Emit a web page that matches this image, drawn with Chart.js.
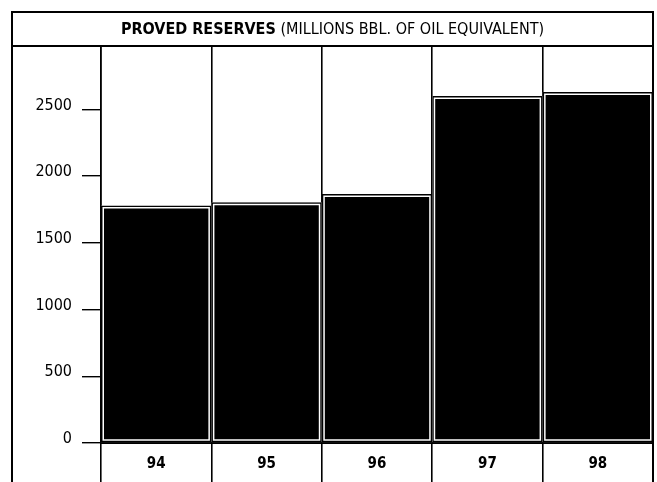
<!DOCTYPE html>
<html>
<head>
<meta charset="utf-8">
<script src="https://cdn.jsdelivr.net/npm/chart.js@4.4.0/dist/chart.umd.min.js"></script>
<style>
  html, body { margin: 0; padding: 0; background: #fff; }
  #wrap { width: 657px; height: 482px; }
</style>
</head>
<body>
<div id="wrap"><canvas id="reserves-chart"></canvas></div>
<script>
const years = ['94', '95', '96', '97', '98'];
const provedReserves = [1780, 1805, 1865, 2600, 2630];
const yTicks = [0, 500, 1000, 1500, 2000, 2500];
const titleBold = 'PROVED RESERVES';
const titleRest = ' (MILLIONS BBL. OF OIL EQUIVALENT)';

const FONT = "'Liberation Sans Narrow', 'DejaVu Sans Condensed', 'Arial Narrow', sans-serif";

// frame + two-weight title row above the plot
const FrameTitle = {
    id: 'frameTitle',
    afterDraw(chart) {
        const c = chart.ctx;
        const area = chart.chartArea;
        const left = 12, top = 12, right = area.right, bottom = chart.height;
        c.save();
        c.strokeStyle = '#000';
        c.lineWidth = 2;
        c.beginPath();
        c.moveTo(left, bottom); c.lineTo(left, top); c.lineTo(right, top); c.lineTo(right, bottom);
        c.moveTo(left, area.top); c.lineTo(right, area.top);
        c.stroke();

        c.fillStyle = '#000';
        c.textBaseline = 'middle';
        c.font = 'bold 16px ' + FONT;
        const wBold = c.measureText(titleBold).width;
        c.font = '16px ' + FONT;
        const wRest = c.measureText(titleRest).width;
        let x = (left + right) / 2 - (wBold + wRest) / 2;
        const y = (top + area.top) / 2 + 1;
        c.font = 'bold 16px ' + FONT;
        c.fillText(titleBold, x, y);
        c.font = '16px ' + FONT;
        c.fillText(titleRest, x + wBold, y);
        c.restore();
    }
};

new Chart(document.getElementById('reserves-chart'), {
    type: 'bar',
    data: {
        labels: years,
        datasets: [
            {
                // outline on top
                data: provedReserves,
                backgroundColor: 'rgba(0,0,0,0)',
                borderColor: '#000',
                borderWidth: 1.5,
                borderSkipped: false,
                grouped: false,
                inflateAmount: 0,
                barPercentage: 1,
                categoryPercentage: 1
            },
            {
                // black fill with white inner gap
                data: provedReserves,
                backgroundColor: '#000',
                borderColor: '#fff',
                borderWidth: 3,
                borderSkipped: false,
                grouped: false,
                inflateAmount: 0,
                barPercentage: 1,
                categoryPercentage: 1
            }
        ]
    },
    options: {
        responsive: true,
        maintainAspectRatio: false,
        animation: false,
        layout: { padding: { left: 12, right: 4, top: 46, bottom: 0 } },
        plugins: {
            legend: { display: false },
            title: { display: false },
            tooltip: { enabled: false }
        },
        scales: {
            x: {
                z: 1,
                offset: true,
                grid: {
                    offset: true,
                    color: '#000',
                    lineWidth: 1.6,
                    drawOnChartArea: true,
                    drawTicks: true,
                    tickLength: 39
                },
                border: { display: true, color: '#000', width: 2 },
                ticks: {
                    color: '#000',
                    padding: -27,
                    font: { family: FONT, size: 15, weight: 'bold' }
                },
                afterFit(scale) { scale.height = 39; }
            },
            y: {
                min: 0,
                max: 2975,
                afterBuildTicks(scale) {
                    scale.ticks = yTicks.map(v => ({ value: v }));
                },
                grid: {
                    drawOnChartArea: false,
                    drawTicks: true,
                    tickLength: 19,
                    color: '#000',
                    lineWidth: 1.4
                },
                border: { display: true, color: '#000', width: 1.6 },
                ticks: {
                    color: '#000',
                    padding: 10,
                    labelOffset: -4,
                    font: { family: FONT, size: 16 },
                    callback: value => String(value)
                },
                afterFit(scale) { scale.width = 89; }
            }
        }
    },
    plugins: [FrameTitle]
});
</script>
</body>
</html>
